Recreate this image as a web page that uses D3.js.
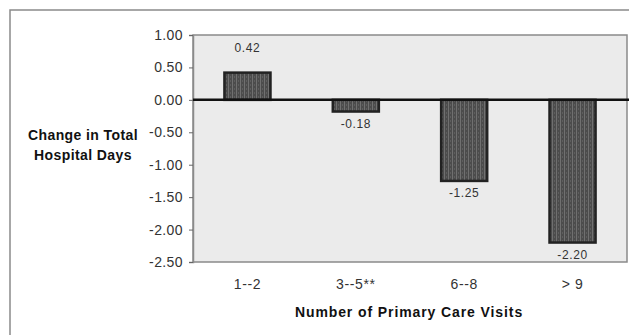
<!DOCTYPE html>
<html>
<head>
<meta charset="utf-8">
<script src="https://cdn.jsdelivr.net/npm/d3@7"></script>
<style>
  body { margin: 0; background: #fff; }
  svg { display: block; font-family: "Liberation Sans", Arial, sans-serif; }
</style>
</head>
<body>
<svg id="chart" width="629" height="335"></svg>
<script>
// dados
const categories = ['1--2', '3--5**', '6--8', '> 9'];
const values = [0.42, -0.18, -1.25, -2.20];
const yTicks = [1.00, 0.50, 0.00, -0.50, -1.00, -1.50, -2.00, -2.50];

const svg = d3.select('#chart');
const plot = {left: 193, right: 627, top: 35, bottom: 262};

// moldura externa
svg.append('rect')
    .attr('x', 10).attr('y', 10)
    .attr('width', 640).attr('height', 340)
    .attr('fill', 'none')
    .attr('stroke', '#8a8a8a')
    .attr('stroke-width', 1.5);

// padrão das barras
const pattern = svg.append('defs').append('pattern')
    .attr('id', 'hatch')
    .attr('width', 4).attr('height', 4)
    .attr('patternUnits', 'userSpaceOnUse');
pattern.append('rect').attr('width', 4).attr('height', 4).attr('fill', '#4c4c4c');
pattern.append('rect').attr('width', 1).attr('height', 4).attr('fill', '#707070');
pattern.append('rect').attr('x', 2).attr('width', 1).attr('height', 2).attr('fill', '#5e5e5e');

const x = d3.scaleBand()
    .domain(categories)
    .range([plot.left, plot.right])
    .paddingInner(0.575)
    .paddingOuter(0.29);

const y = d3.scaleLinear()
    .domain([-2.5, 1])
    .range([plot.bottom, plot.top]);

// fundo da área
svg.append('rect')
    .attr('x', plot.left).attr('y', plot.top)
    .attr('width', plot.right - plot.left)
    .attr('height', plot.bottom - plot.top)
    .attr('fill', '#ebebeb')
    .attr('stroke', '#8a8a8a')
    .attr('stroke-width', 1.5);

// eixo y
const yAxis = svg.append('g')
    .attr('transform', `translate(${plot.left},0)`)
    .attr('font-size', 14)
    .call(d3.axisLeft(y).tickValues(yTicks).tickSize(4).tickPadding(6)
        .tickFormat(d => d3.format('.2f')(d).replace('−', '-')));
yAxis.attr('font-size', 14).attr('font-family', null);
yAxis.select('.domain').attr('stroke', '#8a8a8a').attr('stroke-width', 1.5);
yAxis.selectAll('.tick line').attr('stroke', '#666');
yAxis.selectAll('.tick text')
    .style('font-size', '14px')
    .style('letter-spacing', '0.4px')
    .attr('fill', '#333');

// barras
svg.selectAll('.bar')
    .data(values)
    .enter()
    .append('rect')
    .attr('class', 'bar')
    .attr('x', (d, i) => x(categories[i]))
    .attr('y', d => y(Math.max(0, d)))
    .attr('width', x.bandwidth())
    .attr('height', d => Math.abs(y(d) - y(0)))
    .attr('fill', 'url(#hatch)')
    .attr('stroke', '#222')
    .attr('stroke-width', 2.5);

// linha do zero
svg.append('line')
    .attr('x1', plot.left).attr('x2', 629)
    .attr('y1', y(0)).attr('y2', y(0))
    .attr('stroke', '#111')
    .attr('stroke-width', 2.5);

// rótulos dos valores
svg.selectAll('.val')
    .data(values)
    .enter()
    .append('text')
    .attr('class', 'val')
    .attr('x', (d, i) => x(categories[i]) + x.bandwidth() / 2)
    .attr('y', d => d >= 0 ? y(1) + 17 : y(d) + 16)
    .attr('text-anchor', 'middle')
    .style('font-size', '12px')
    .style('letter-spacing', '0.6px')
    .attr('fill', '#333')
    .text(d => d.toFixed(2));

// rótulos das categorias
svg.selectAll('.cat')
    .data(categories)
    .enter()
    .append('text')
    .attr('class', 'cat')
    .attr('x', d => x(d) + x.bandwidth() / 2)
    .attr('y', 289)
    .attr('text-anchor', 'middle')
    .style('font-size', '14px')
    .style('letter-spacing', '0.6px')
    .attr('fill', '#333')
    .text(d => d);

// títulos
svg.append('text')
    .attr('x', 409).attr('y', 317)
    .attr('text-anchor', 'middle')
    .style('font-size', '14px')
    .style('font-weight', 'bold')
    .style('letter-spacing', '0.9px')
    .attr('fill', '#111')
    .text('Number of Primary Care Visits');

const yTitle = svg.append('text')
    .attr('text-anchor', 'middle')
    .style('font-size', '14px')
    .style('font-weight', 'bold')
    .style('letter-spacing', '0.4px')
    .attr('fill', '#111');
yTitle.append('tspan').attr('x', 83).attr('y', 140).text('Change in Total');
yTitle.append('tspan').attr('x', 83).attr('y', 160).text('Hospital Days');
</script>
</body>
</html>
